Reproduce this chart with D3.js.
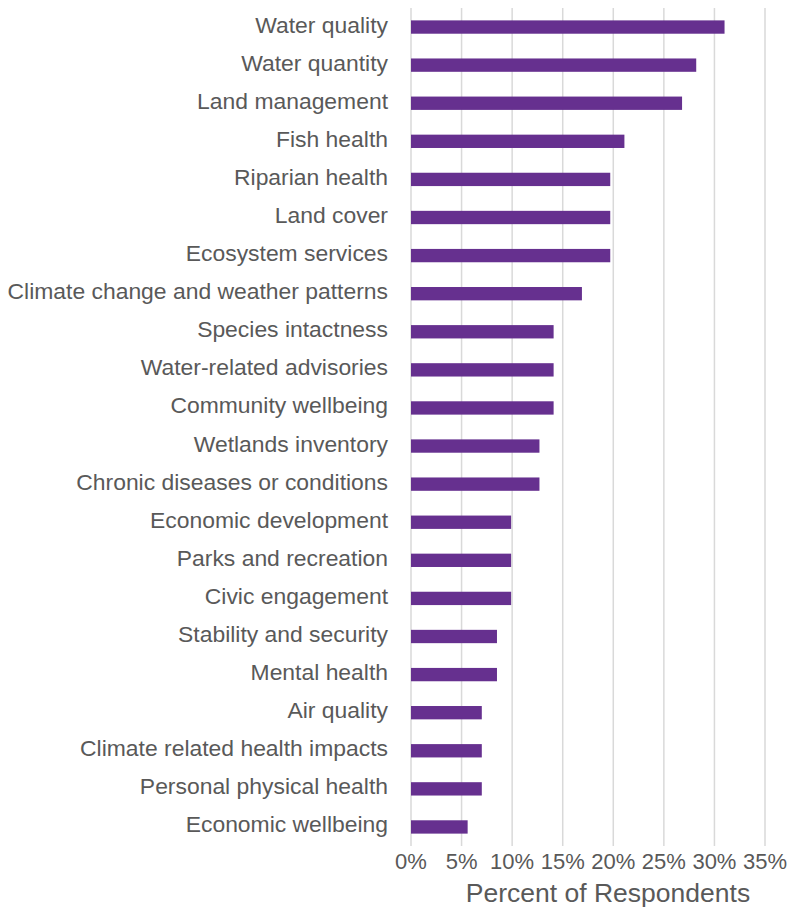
<!DOCTYPE html>
<html>
<head>
<meta charset="utf-8">
<script src="https://cdn.jsdelivr.net/npm/d3@7"></script>
<style>
  body { margin: 0; background: #fff; }
  svg text { font-family: "Liberation Sans", Arial, sans-serif; fill: #595959; }
</style>
</head>
<body>
<div id="chart"></div>
<script>
var categories = [
  "Water quality",
  "Water quantity",
  "Land management",
  "Fish health",
  "Riparian health",
  "Land cover",
  "Ecosystem services",
  "Climate change and weather patterns",
  "Species intactness",
  "Water-related advisories",
  "Community wellbeing",
  "Wetlands inventory",
  "Chronic diseases or conditions",
  "Economic development",
  "Parks and recreation",
  "Civic engagement",
  "Stability and security",
  "Mental health",
  "Air quality",
  "Climate related health impacts",
  "Personal physical health",
  "Economic wellbeing"
];
var percents = [31.0, 28.2, 26.8, 21.1, 19.7, 19.7, 19.7, 16.9, 14.1, 14.1, 14.1, 12.7, 12.7, 9.9, 9.9, 9.9, 8.5, 8.5, 7.0, 7.0, 7.0, 5.6];
var tickValues = [0, 5, 10, 15, 20, 25, 30, 35];
var axisTitle = "Percent of Respondents";

var width = 792, height = 909;
var plotLeft = 411, plotRight = 765, plotTop = 8, plotBottom = 846;

var svg = d3.select("#chart").append("svg")
  .attr("width", width)
  .attr("height", height);

var x = d3.scaleLinear().domain([0, 35]).range([plotLeft, plotRight]);
var y = d3.scaleBand().domain(categories).range([plotTop, plotBottom])
  .paddingInner(0.65).paddingOuter(0.325);

// gridlines
svg.append("g").selectAll("line")
  .data(tickValues)
  .enter().append("line")
  .attr("x1", function(d) { return x(d); })
  .attr("x2", function(d) { return x(d); })
  .attr("y1", plotTop)
  .attr("y2", plotBottom)
  .attr("stroke", "#d9d9d9")
  .attr("stroke-width", 1.5);

// bars
svg.append("g").selectAll("rect")
  .data(categories)
  .enter().append("rect")
  .attr("x", x(0))
  .attr("y", function(d) { return y(d); })
  .attr("width", function(d, i) { return x(percents[i]) - x(0); })
  .attr("height", y.bandwidth())
  .attr("fill", "#66308f");

// category labels
svg.append("g").selectAll("text")
  .data(categories)
  .enter().append("text")
  .attr("x", 388)
  .attr("y", function(d) { return y(d) + y.bandwidth() / 2; })
  .attr("dy", "0.24em")
  .attr("text-anchor", "end")
  .attr("font-size", 22.9)
  .text(function(d) { return d; });

// x tick labels
svg.append("g").selectAll("text")
  .data(tickValues)
  .enter().append("text")
  .attr("x", function(d) { return x(d); })
  .attr("y", 869)
  .attr("text-anchor", "middle")
  .attr("font-size", 22)
  .text(function(d) { return d + "%"; });

svg.append("text")
  .attr("x", 608)
  .attr("y", 902)
  .attr("text-anchor", "middle")
  .attr("font-size", 26.5)
  .text(axisTitle);
</script>
</body>
</html>
